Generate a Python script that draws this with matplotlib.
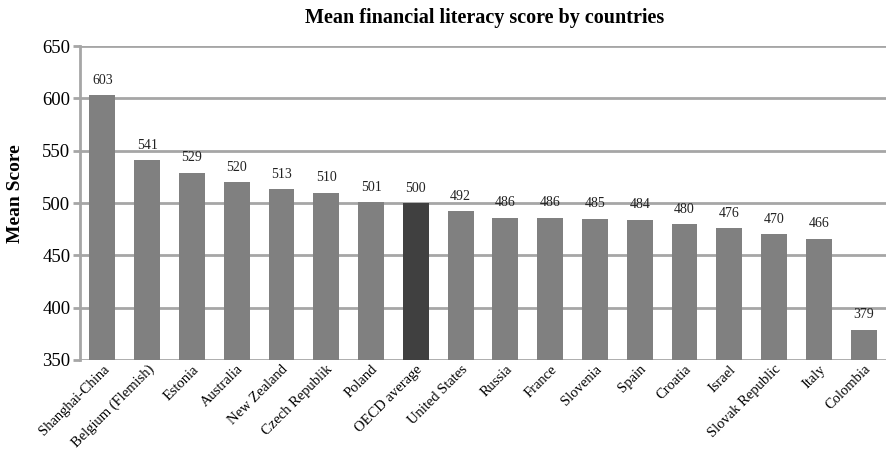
import matplotlib
matplotlib.use("Agg")
import matplotlib.pyplot as plt
import numpy as np

countries = ["Shanghai-China", "Belgium (Flemish)", "Estonia", "Australia", "New Zealand",
             "Czech Republik", "Poland", "OECD average", "United States", "Russia", "France",
             "Slovenia", "Spain", "Croatia", "Israel", "Slovak Republic", "Italy", "Colombia"]
scores = [603, 541, 529, 520, 513, 510, 501, 500, 492, 486, 486, 485, 484, 480, 476, 470, 466, 379]

plt.rcParams["font.family"] = ["Liberation Serif", "DejaVu Serif"]

fig = plt.figure(figsize=(8.86, 4.51), dpi=100)
ax = fig.add_axes([0.0903, 0.2018, 0.9097, 0.696])

x = np.arange(len(countries))
colors = ["#404040" if c == "OECD average" else "#808080" for c in countries]
ax.bar(x, scores, width=0.58, color=colors, zorder=3)

# value labels above bars
for xi, s in zip(x, scores):
    ax.text(xi, s + 8, str(s), ha="center", va="bottom", fontsize=10, color="#222222")

ax.set_ylim(350, 650)
ax.set_xlim(-0.5, len(countries) - 0.5)
ax.set_yticks(range(350, 651, 50))
ax.yaxis.grid(True, color="#a6a6a6", linewidth=2, zorder=0)
ax.tick_params(axis="y", labelsize=13.5, length=5, color="#a6a6a6", width=2, pad=2)
ax.tick_params(axis="x", length=0, pad=2)
ax.set_xticks(x)
ax.set_xticklabels(countries, rotation=45, ha="right", rotation_mode="anchor", fontsize=10.5)

for side in ["top", "right", "bottom"]:
    ax.spines[side].set_visible(False)
ax.spines["left"].set_color("#a6a6a6")
ax.spines["left"].set_linewidth(2)

ax.set_ylabel("Mean Score", fontsize=14, fontweight="bold")
ax.yaxis.set_label_coords(-0.069, 0.53)
fig.text(0.547, 0.96, "Mean financial literacy score by countries", ha="center", va="center",
         fontsize=14.5, fontweight="bold")

fig.savefig("out.png", dpi=100)
